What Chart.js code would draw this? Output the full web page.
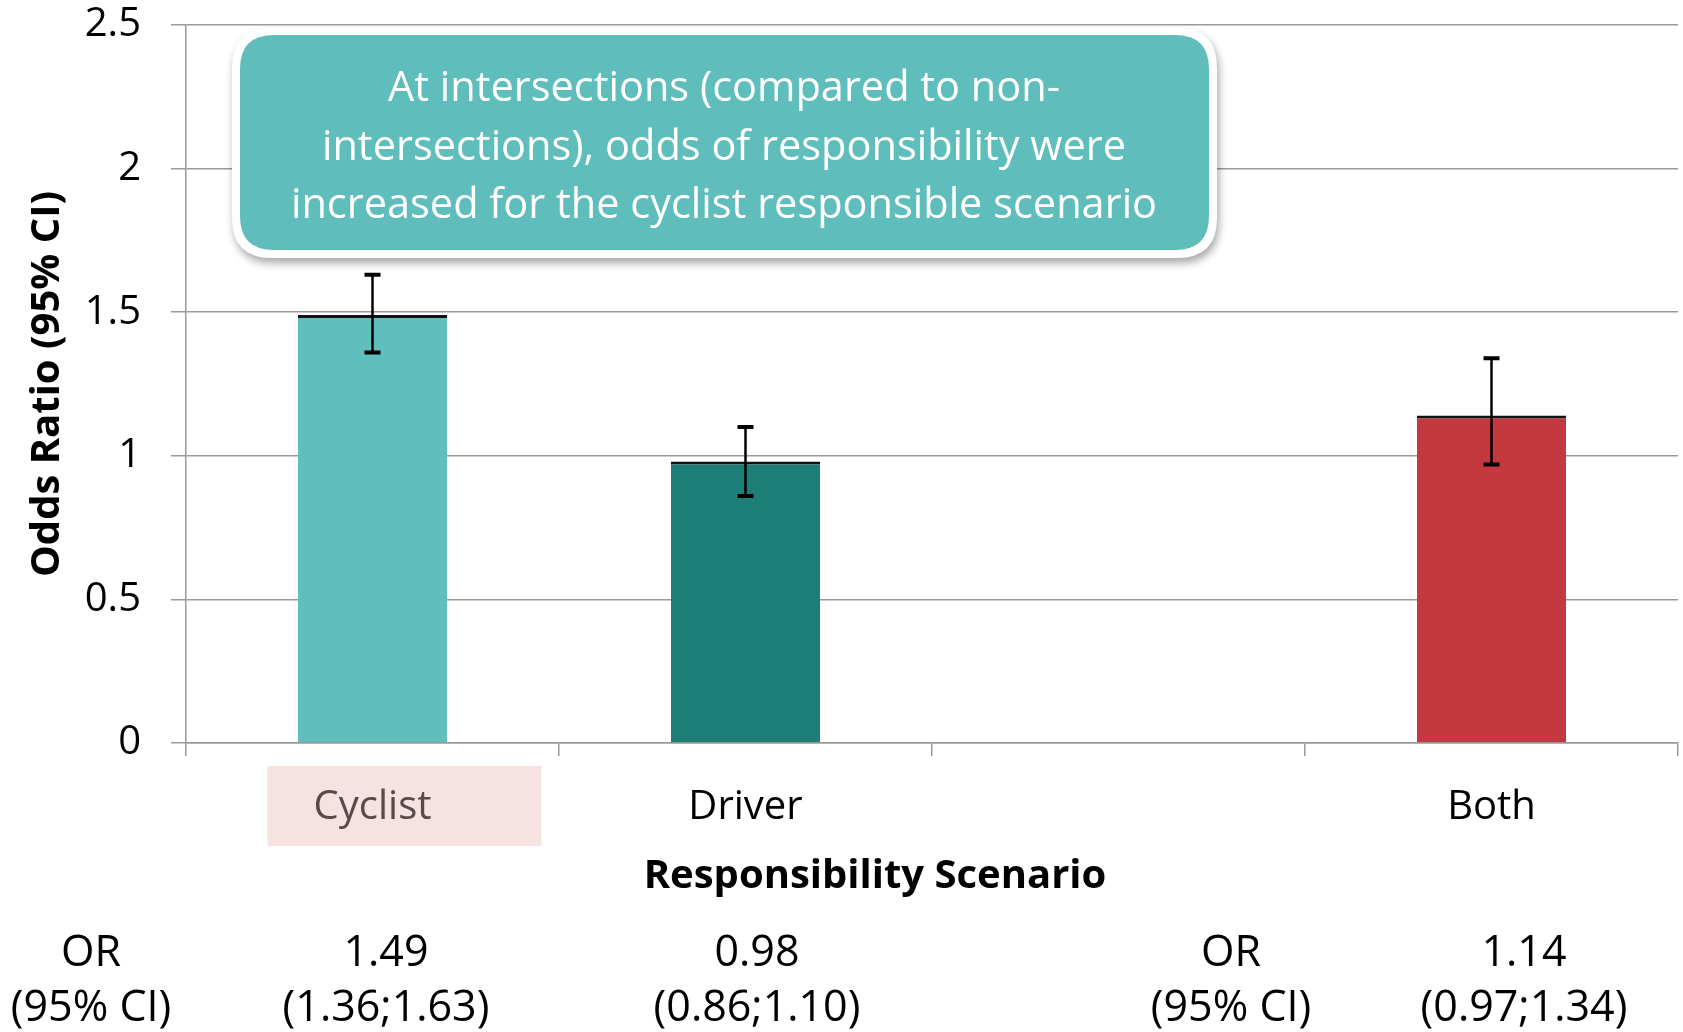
<!DOCTYPE html>
<html>
<head>
<meta charset="utf-8">
<script src="https://cdn.jsdelivr.net/npm/chart.js@4"></script>
<style>
  html, body { margin: 0; padding: 0; background: #fff; }
  #wrap { width: 1683px; height: 1032px; position: relative; }
</style>
</head>
<body>
<div id="wrap"><canvas id="orChart"></canvas></div>
<script>
const scenarios = ['Cyclist', 'Driver', '', 'Both'];
const oddsRatios = [1.49, 0.98, null, 1.14];
const ciLower = [1.36, 0.86, null, 0.97];
const ciUpper = [1.63, 1.10, null, 1.34];
const barColors = ['#60bfbc', '#1d7e78', '#ffffff', '#c3393f'];
const calloutLines = [
    'At intersections (compared to non-',
    'intersections), odds of responsibility were',
    'increased for the cyclist responsible scenario'
];

const FONT = "'Open Sans', sans-serif";
const GRID = '#9a9a9a';

Chart.defaults.font.family = FONT;
Chart.defaults.color = '#000';

function roundRectPath(ctx, x, y, w, h, r) {
    ctx.beginPath();
    ctx.moveTo(x + r, y);
    ctx.lineTo(x + w - r, y);
    ctx.quadraticCurveTo(x + w, y, x + w, y + r);
    ctx.lineTo(x + w, y + h - r);
    ctx.quadraticCurveTo(x + w, y + h, x + w - r, y + h);
    ctx.lineTo(x + r, y + h);
    ctx.quadraticCurveTo(x, y + h, x, y + h - r);
    ctx.lineTo(x, y + r);
    ctx.quadraticCurveTo(x, y, x + r, y);
    ctx.closePath();
}

// error bars from the CI arrays
const errorBars = {
    id: 'errorBars',
    afterDatasetsDraw(chart) {
        const { ctx, scales: { x, y } } = chart;
        ctx.save();
        ctx.strokeStyle = '#000';
        ciLower.forEach((lo, i) => {
            if (lo == null) return;
            const px = x.getPixelForValue(i);
            const yLo = y.getPixelForValue(lo);
            const yHi = y.getPixelForValue(ciUpper[i]);
            ctx.lineWidth = 2.5;
            ctx.beginPath();
            ctx.moveTo(px, yLo);
            ctx.lineTo(px, yHi);
            ctx.stroke();
            ctx.lineWidth = 4;
            ctx.beginPath();
            ctx.moveTo(px - 8, yLo);
            ctx.lineTo(px + 8, yLo);
            ctx.moveTo(px - 8, yHi);
            ctx.lineTo(px + 8, yHi);
            ctx.stroke();
        });
        ctx.restore();
    }
};

// callout box, x axis title and the OR table under the chart
const extras = {
    id: 'extras',
    afterDraw(chart) {
        const ctx = chart.ctx;
        ctx.save();

        // callout
        ctx.shadowColor = 'rgba(0,0,0,0.35)';
        ctx.shadowBlur = 8;
        ctx.shadowOffsetX = 2;
        ctx.shadowOffsetY = 5;
        ctx.fillStyle = '#ffffff';
        roundRectPath(ctx, 232, 28, 985, 230, 40);
        ctx.fill();
        ctx.shadowColor = 'transparent';
        ctx.fillStyle = '#5fbebb';
        roundRectPath(ctx, 240, 35, 969, 215, 34);
        ctx.fill();

        ctx.fillStyle = '#ffffff';
        ctx.font = '41.5px ' + FONT;
        ctx.textAlign = 'center';
        ctx.textBaseline = 'alphabetic';
        const baselines = [101, 160, 218];
        calloutLines.forEach((t, i) => ctx.fillText(t, 724, baselines[i]));

        // x axis title
        ctx.fillStyle = '#000';
        ctx.font = 'bold 40px ' + FONT;
        ctx.fillText('Responsibility Scenario', 875, 888);

        // table
        ctx.font = '43px ' + FONT;
        const fmt = v => v.toFixed(2);
        const cols = [
            { x: 91, top: 'OR', bottom: '(95% CI)' },
            { x: 386, top: fmt(oddsRatios[0]), bottom: '(' + fmt(ciLower[0]) + ';' + fmt(ciUpper[0]) + ')' },
            { x: 757, top: fmt(oddsRatios[1]), bottom: '(' + fmt(ciLower[1]) + ';' + fmt(ciUpper[1]) + ')' },
            { x: 1231, top: 'OR', bottom: '(95% CI)' },
            { x: 1524, top: fmt(oddsRatios[3]), bottom: '(' + fmt(ciLower[3]) + ';' + fmt(ciUpper[3]) + ')' }
        ];
        cols.forEach(c => {
            ctx.fillText(c.top, c.x, 966);
            ctx.fillText(c.bottom, c.x, 1021);
        });
        ctx.restore();
    }
};

new Chart(document.getElementById('orChart'), {
    type: 'bar',
    data: {
        labels: scenarios,
        datasets: [{
            data: oddsRatios,
            backgroundColor: barColors,
            borderColor: '#111',
            borderWidth: { top: 3, left: 0, right: 0, bottom: 0 },
            borderSkipped: false,
            barPercentage: 0.5,
            categoryPercentage: 0.8
        }]
    },
    options: {
        responsive: true,
        maintainAspectRatio: false,
        animation: false,
        layout: { padding: { top: 25, right: 5, bottom: 0, left: 0 } },
        plugins: {
            legend: { display: false },
            tooltip: { enabled: false }
        },
        scales: {
            x: {
                grid: {
                    drawOnChartArea: false,
                    color: GRID,
                    lineWidth: 1.5,
                    tickLength: 13
                },
                border: { color: GRID, width: 1.5 },
                ticks: {
                    font: { size: 40 },
                    padding: 28,
                    color: ctx => ctx.index === 0 ? '#594a4a' : '#000',
                    showLabelBackdrop: ctx => ctx.index === 0,
                    backdropColor: '#f5e2e1',
                    backdropPadding: { top: 18, bottom: 14, left: 46, right: 110 }
                },
                afterFit(scale) {
                    scale.height = 289;
                    scale.paddingLeft = 0;
                    scale.paddingRight = 0;
                }
            },
            y: {
                min: 0,
                max: 2.5,
                grid: { color: GRID, lineWidth: 1.5, tickLength: 15 },
                border: { color: GRID, width: 1.5 },
                ticks: {
                    stepSize: 0.5,
                    font: { size: 40 },
                    padding: 30,
                    callback: v => String(v)
                },
                title: {
                    display: true,
                    text: 'Odds Ratio (95% CI)',
                    font: { size: 40, weight: 'bold' },
                    padding: { top: 24 }
                },
                afterFit(scale) {
                    scale.width = 186;
                    scale.paddingTop = 0;
                    scale.paddingBottom = 0;
                }
            }
        }
    },
    plugins: [errorBars, extras]
});
</script>
</body>
</html>
